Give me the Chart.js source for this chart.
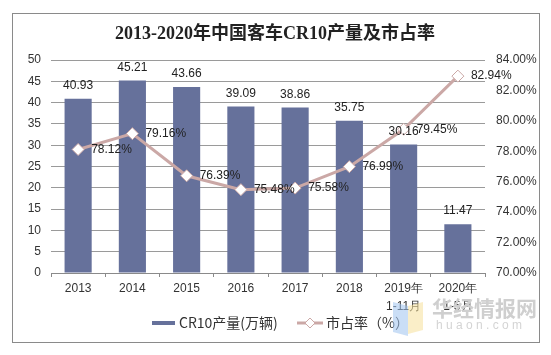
<!DOCTYPE html>
<html><head><meta charset="utf-8">
<script src="https://cdn.jsdelivr.net/npm/chart.js@4.4.1/dist/chart.umd.min.js"></script>
<style>html,body{margin:0;padding:0;background:#fff}#wrap{width:551px;height:355px}</style>
</head><body><div id="wrap"><canvas id="c" width="551" height="355"></canvas></div>
<script>
const titleText = '2013-2020年中国客车CR10产量及市占率';
const categories = ['2013','2014','2015','2016','2017','2018',['2019年','1-11月'],['2020年','1-5月']];
const outputValues = [40.93,45.21,43.66,39.09,38.86,35.75,30.16,11.47];
const shareValues = [78.12,79.16,76.39,75.48,75.58,76.99,79.45,82.94];
const leftTicks = [0,5,10,15,20,25,30,35,40,45,50];
const rightTicks = [70,72,74,76,78,80,82,84];
const seriesNames = ['CR10产量(万辆)','市占率（%）'];

const BAR = '#66719b';
const LINE = '#cba8a6';
const SANS = "'Liberation Sans', Arial, sans-serif";
const CJK = "'Noto Sans CJK SC', sans-serif";

Chart.defaults.font.family = SANS;
Chart.defaults.font.size = 12;
Chart.defaults.color = '#333';

const deco = {
  id: 'deco',
  beforeDraw(chart) {
    const ctx = chart.ctx;
    ctx.save();
    ctx.fillStyle = '#fff';
    ctx.fillRect(0, 0, chart.width, chart.height);
    ctx.strokeStyle = '#8a8a8a';
    ctx.lineWidth = 1;
    ctx.strokeRect(12.5, 13.5, 527, 329);
    ctx.fillStyle = '#222';
    ctx.font = "bold 18px 'Liberation Serif', 'Noto Sans CJK SC', serif";
    ctx.textAlign = 'center';
    ctx.textBaseline = 'middle';
    ctx.fillText(titleText, 275, 34);
    ctx.restore();
  },
  afterDatasetsDraw(chart) {
    const ctx = chart.ctx;
    ctx.save();
    ctx.font = '12px ' + SANS;
    ctx.fillStyle = '#222';
    ctx.textBaseline = 'middle';
    const bars = chart.getDatasetMeta(0).data;
    ctx.textAlign = 'center';
    bars.forEach((b, i) => ctx.fillText(outputValues[i].toFixed(2), b.x, b.y - 13));
    const pts = chart.getDatasetMeta(1).data;
    ctx.textAlign = 'left';
    pts.forEach((p, i) => ctx.fillText(shareValues[i].toFixed(2) + '%', p.x + 13, p.y));
    ctx.restore();
  },
  afterDraw(chart) {
    const ctx = chart.ctx;
    ctx.save();
    // legend
    ctx.fillStyle = BAR;
    ctx.fillRect(152, 321, 23, 4);
    ctx.font = '14px ' + CJK;
    ctx.textBaseline = 'middle';
    ctx.textAlign = 'left';
    ctx.fillStyle = '#333';
    ctx.fillText(seriesNames[0], 179, 323);
    ctx.strokeStyle = LINE;
    ctx.lineWidth = 3;
    ctx.beginPath(); ctx.moveTo(297, 323); ctx.lineTo(323, 323); ctx.stroke();
    ctx.fillStyle = '#fff';
    ctx.lineWidth = 1;
    ctx.beginPath();
    ctx.moveTo(310, 318); ctx.lineTo(315, 323); ctx.lineTo(310, 328); ctx.lineTo(305, 323); ctx.closePath();
    ctx.fill(); ctx.stroke();
    ctx.fillStyle = '#333';
    ctx.fillText(seriesNames[1], 326, 323);
    // watermark
    ctx.globalAlpha = 0.55;
    ctx.fillStyle = '#9fc3ee';
    ctx.beginPath(); ctx.moveTo(393, 302); ctx.lineTo(408, 306); ctx.lineTo(408, 336); ctx.lineTo(393, 332); ctx.closePath(); ctx.fill();
    ctx.fillStyle = '#f6e09a';
    ctx.beginPath(); ctx.moveTo(408, 306); ctx.lineTo(423, 302); ctx.lineTo(423, 330); ctx.lineTo(408, 334); ctx.closePath(); ctx.fill();
    ctx.globalAlpha = 1;
    ctx.fillStyle = '#cfcfcf';
    ctx.font = 'bold 21px ' + CJK;
    ctx.fillText('华经情报网', 432, 308);
    ctx.font = '12px ' + SANS;
    ctx.fillStyle = '#d4d4d4';
    ctx.fillText('h u a o n . c o m', 436, 326);
    ctx.restore();
  }
};

new Chart(document.getElementById('c'), {
  type: 'bar',
  data: {
    labels: categories,
    datasets: [
      { type: 'bar', label: seriesNames[0], data: outputValues, backgroundColor: BAR,
        yAxisID: 'y', barPercentage: 0.5, categoryPercentage: 1, order: 2 },
      { type: 'line', label: seriesNames[1], data: shareValues, borderColor: LINE, borderWidth: 3,
        pointStyle: 'rectRot', pointRadius: 6, pointBackgroundColor: '#fff', pointBorderColor: LINE,
        pointBorderWidth: 1, yAxisID: 'y1', tension: 0, order: 1 }
    ]
  },
  options: {
    responsive: false, animation: false, devicePixelRatio: 1,
    layout: { padding: { top: 60, left: 0, right: 0, bottom: 42 } },
    plugins: { legend: { display: false }, tooltip: { enabled: false }, title: { display: false } },
    scales: {
      x: {
        grid: { drawOnChartArea: false, drawTicks: true, tickLength: 4, color: '#8a8a8a', offset: true },
        border: { display: true, color: '#8a8a8a' },
        ticks: { padding: 3, color: '#333', font: { size: 12, lineHeight: 1.5 }, maxRotation: 0, autoSkip: false },
        afterFit(s) { s.height = 40; }
      },
      y: {
        position: 'left', min: leftTicks[0], max: leftTicks[leftTicks.length - 1],
        ticks: { stepSize: leftTicks[1] - leftTicks[0], padding: 10, color: '#333' },
        grid: { color: '#9a9a9a', drawTicks: false },
        border: { display: false },
        afterFit(s) { s.width = 51; }
      },
      y1: {
        position: 'right', min: rightTicks[0], max: rightTicks[rightTicks.length - 1],
        ticks: { stepSize: rightTicks[1] - rightTicks[0], padding: 11, color: '#333',
                 callback: v => v.toFixed(2) + '%' },
        grid: { drawOnChartArea: false, drawTicks: false },
        border: { display: false },
        afterFit(s) { s.width = 66; }
      }
    }
  },
  plugins: [deco]
});
</script></body></html>
